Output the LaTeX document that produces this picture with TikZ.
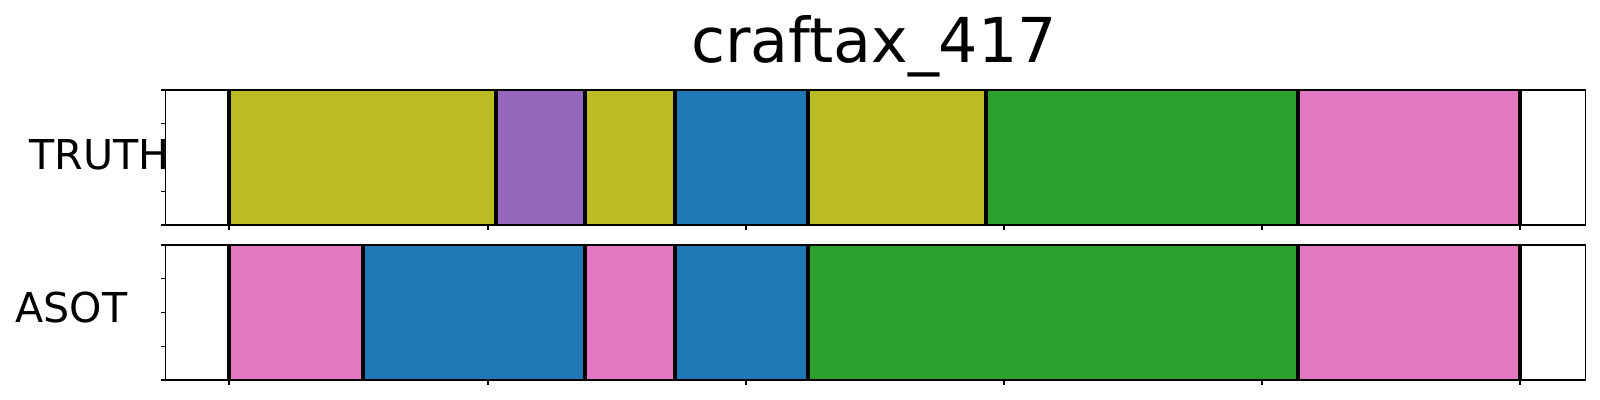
\documentclass[tikz,border=0pt]{standalone}
\usepackage{fontspec}
\setmainfont{DejaVu Sans}
\usepackage{tikz}
\definecolor{segolive}{HTML}{BCBD22}
\definecolor{segpurple}{HTML}{9467BD}
\definecolor{segblue}{HTML}{1F77B4}
\definecolor{seggreen}{HTML}{2CA02C}
\definecolor{segpink}{HTML}{E377C2}

\begin{document}
\begin{tikzpicture}[x=0.01cm, y=-0.01cm, tnode/.style={anchor=base, inner sep=0pt, font=\fontsize{17.6}{20}\selectfont}, lnode/.style={anchor=base west, inner sep=0pt, font=\fontsize{11.7}{14}\selectfont}, cut/.style={line width=1.05pt}, frame/.style={line width=0.45pt}, tick/.style={line width=0.3pt}]
    \useasboundingbox (0,0) rectangle (1600,400);

    \fill[segolive] (229,90) rectangle (496,225);
    \fill[segpurple] (496,90) rectangle (585,225);
    \fill[segolive] (585,90) rectangle (675,225);
    \fill[segblue] (675,90) rectangle (808,225);
    \fill[segolive] (808,90) rectangle (986,225);
    \fill[seggreen] (986,90) rectangle (1298,225);
    \fill[segpink] (1298,90) rectangle (1520,225);

    \fill[segpink] (229,245) rectangle (363,380);
    \fill[segblue] (363,245) rectangle (585,380);
    \fill[segpink] (585,245) rectangle (675,380);
    \fill[segblue] (675,245) rectangle (808,380);
    \fill[seggreen] (808,245) rectangle (1298,380);
    \fill[segpink] (1298,245) rectangle (1520,380);

   \begin{scope}[cut]
    \draw (229,90) -- (229,225);
    \draw (496,90) -- (496,225);
    \draw (585,90) -- (585,225);
    \draw (675,90) -- (675,225);
    \draw (808,90) -- (808,225);
    \draw (986,90) -- (986,225);
    \draw (1298,90) -- (1298,225);
    \draw (1520,90) -- (1520,225);
    \draw (229,245) -- (229,380);
    \draw (363,245) -- (363,380);
    \draw (585,245) -- (585,380);
    \draw (675,245) -- (675,380);
    \draw (808,245) -- (808,380);
    \draw (1298,245) -- (1298,380);
    \draw (1520,245) -- (1520,380);
   \end{scope}

    \draw[frame] (165.5,90) rectangle (1585.5,225);
    \draw[frame] (165.5,245) rectangle (1585.5,380);

   \begin{scope}[tick]
    \draw (161,90) -- (165.5,90);
    \draw (161,123.75) -- (165.5,123.75);
    \draw (161,157.5) -- (165.5,157.5);
    \draw (161,191.25) -- (165.5,191.25);
    \draw (161,225) -- (165.5,225);
    \draw (161,245) -- (165.5,245);
    \draw (161,278.75) -- (165.5,278.75);
    \draw (161,312.5) -- (165.5,312.5);
    \draw (161,346.25) -- (165.5,346.25);
    \draw (161,380) -- (165.5,380);
    \draw (229,225) -- (229,230);
    \draw (488,225) -- (488,230);
    \draw (746,225) -- (746,230);
    \draw (1004,225) -- (1004,230);
    \draw (1262,225) -- (1262,230);
    \draw (1520,225) -- (1520,230);
    \draw (229,380) -- (229,385);
    \draw (488,380) -- (488,385);
    \draw (746,380) -- (746,385);
    \draw (1004,380) -- (1004,385);
    \draw (1262,380) -- (1262,385);
    \draw (1520,380) -- (1520,385);
   \end{scope}

    \node[tnode] (title) at (874,62.7) {craftax\_417};
    \node[lnode] (truth) at (29,169.3) {TRUTH};
    \node[lnode] (asot) at (15,322.7) {ASOT};
\end{tikzpicture}
\end{document}
